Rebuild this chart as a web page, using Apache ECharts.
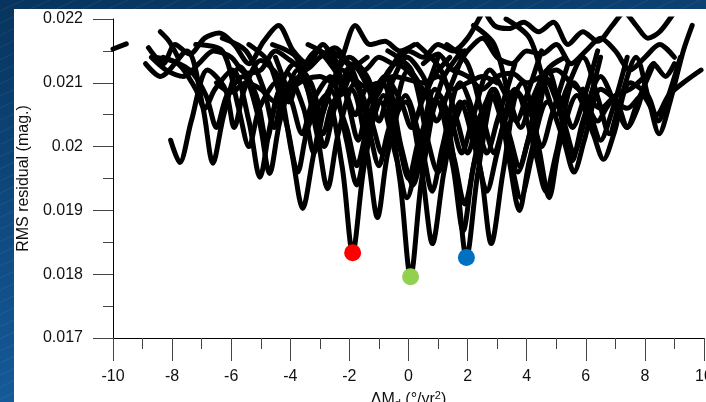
<!DOCTYPE html>
<html>
<head>
<meta charset="utf-8">
<script src="https://cdn.jsdelivr.net/npm/echarts@6/dist/echarts.min.js"></script>
<style>
  html, body { margin:0; padding:0; width:706px; height:402px; overflow:hidden; }
  body {
    background:
      repeating-linear-gradient(155deg, rgba(255,255,255,0.0) 0px, rgba(255,255,255,0.0) 9px, rgba(255,255,255,0.06) 10px, rgba(255,255,255,0.0) 11px),
      linear-gradient(170deg, #07345e 0%, #0f4b82 45%, #1a64a8 100%);
  }
  #panel { position:absolute; left:14px; top:9px; width:692px; height:393px; background:#fff; }
  #chart { position:absolute; left:0; top:0; width:706px; height:402px; }
</style>
</head>
<body>
<div id="panel"></div>
<div id="chart"></div>
<script>
// axis ticks
const xTicks = [-10, -8, -6, -4, -2, 0, 2, 4, 6, 8, 10];
const yTicks = [0.017, 0.018, 0.019, 0.02, 0.021, 0.022];

// RMS residual curves, [dMd, rms]
const cA = [[-8.05,0.0201],[-7.74,0.01975],[-7.35,0.0204],[-6.8,0.0212],[-6.2,0.0209],[-5.9,0.0203],[-5.55,0.0209],[-5.0,0.02135],[-4.4,0.0211],[-4.05,0.0207],[-3.7,0.0211],[-3.1,0.0215],[-2.5,0.0212],[-2.2,0.0209],[-1.9,0.0212],[-1.4,0.0214]];
const cB = [[-8.9,0.0213],[-8.4,0.0211],[-7.5,0.0215],[-6.95,0.0206],[-6.62,0.01974],[-6.25,0.0205],[-5.7,0.02125],[-5.15,0.0208],[-4.8,0.0201],[-4.45,0.0208],[-3.85,0.0213],[-3.3,0.0210],[-2.95,0.0205],[-2.6,0.0210],[-2.0,0.0214],[-1.4,0.0211],[-1.1,0.0208],[-0.75,0.0211],[-0.3,0.02145]];
const cC = [[-8.6,0.0214],[-7.8,0.0213],[-7.2,0.0209],[-6.9,0.0206],[-6.55,0.0209],[-5.95,0.0212],[-5.4,0.0204],[-5.03,0.01952],[-4.65,0.0204],[-4.1,0.02115],[-3.55,0.0206],[-3.2,0.0199],[-2.85,0.0206],[-2.25,0.0212],[-1.7,0.0209],[-1.35,0.0204],[-1.0,0.0209],[-0.4,0.0213],[0.15,0.0211],[0.5,0.0208],[0.85,0.0211],[1.4,0.0214]];
const cD = [[-8.3,0.0214],[-7.4,0.0212],[-6.85,0.0208],[-6.5,0.0203],[-6.15,0.0208],[-5.6,0.0211],[-5.05,0.0204],[-4.7,0.01958],[-4.35,0.0204],[-3.75,0.0212],[-3.2,0.0206],[-2.85,0.0200],[-2.5,0.0206],[-1.9,0.0213],[-1.35,0.0209],[-1.0,0.0204],[-0.65,0.0209],[-0.05,0.0214],[0.5,0.0211],[0.85,0.0207],[1.2,0.0211],[1.8,0.0215]];
const cE = [[-7.2,0.0216],[-6.3,0.0215],[-5.75,0.0206],[-5.4,0.0200],[-5.05,0.0206],[-4.5,0.0210],[-3.95,0.0199],[-3.58,0.01903],[-3.2,0.0199],[-2.65,0.0209],[-2.1,0.0203],[-1.75,0.0197],[-1.4,0.0203],[-0.8,0.0211],[-0.25,0.0207],[0.1,0.0203],[0.45,0.0207],[1.0,0.0214]];
const cF = [[-6.3,0.0217],[-5.5,0.0215],[-4.9,0.0209],[-4.55,0.0203],[-4.2,0.0209],[-3.65,0.0211],[-3.1,0.0202],[-2.74,0.01934],[-2.38,0.0202],[-1.8,0.0210],[-1.25,0.0204],[-0.9,0.0199],[-0.55,0.0204],[0.0,0.0212],[0.6,0.0208],[0.95,0.0204],[1.3,0.0208],[1.9,0.0215]];
const cR = [[-5.4,0.0216],[-4.7,0.0213],[-4.1,0.0203],[-3.75,0.0196],[-3.4,0.0203],[-2.8,0.0208],[-2.25,0.0197],[-1.89,0.01834],[-1.5,0.0197],[-0.95,0.0207],[-0.4,0.0198],[-0.05,0.0192],[0.3,0.0198],[0.9,0.0209],[1.45,0.0204],[1.8,0.0199],[2.15,0.0204],[2.75,0.0212],[3.3,0.0208],[3.65,0.0204],[4.0,0.0208],[4.5,0.0215]];
const cH = [[-4.6,0.0216],[-3.8,0.0214],[-3.25,0.0207],[-2.9,0.0202],[-2.55,0.0207],[-1.95,0.0209],[-1.4,0.0199],[-1.05,0.01889],[-0.7,0.0199],[-0.1,0.0208],[0.45,0.0200],[0.8,0.0193],[1.15,0.0200],[1.75,0.0210],[2.3,0.0204],[2.65,0.0199],[3.0,0.0204],[3.6,0.0213]];
const cG = [[-4.5,0.0214],[-3.95,0.0207],[-3.6,0.0202],[-3.25,0.0207],[-2.65,0.0211],[-2.1,0.0201],[-1.75,0.0194],[-1.4,0.0201],[-0.85,0.0208],[-0.3,0.0195],[0.07,0.01796],[0.45,0.0195],[1.0,0.0207],[1.55,0.0198],[1.9,0.0191],[2.25,0.0198],[2.85,0.0209],[3.4,0.0202],[3.75,0.0197],[4.1,0.0202],[4.7,0.0212],[5.3,0.0214]];
const cI = [[-2.6,0.0215],[-1.9,0.0212],[-1.35,0.0203],[-1.0,0.0197],[-0.65,0.0203],[-0.1,0.0207],[0.45,0.0196],[0.81,0.01848],[1.2,0.0196],[1.75,0.0207],[2.3,0.0199],[2.65,0.0193],[3.0,0.0199],[3.6,0.0209],[4.15,0.0205],[4.5,0.0200],[4.85,0.0205],[5.4,0.0213]];
const cK = [[-3.4,0.0216],[-2.7,0.0214],[-2.15,0.0209],[-1.8,0.0205],[-1.45,0.0209],[-0.9,0.0210],[-0.35,0.0201],[0.0,0.0195],[0.35,0.0201],[0.95,0.0207],[1.5,0.0197],[1.85,0.01868],[2.2,0.0197],[2.8,0.0208],[3.35,0.0201],[3.7,0.0196],[4.05,0.0201],[4.6,0.0211],[5.2,0.0207],[5.55,0.0203],[5.9,0.0207],[6.4,0.0215]];
const cBl = [[-2.5,0.0214],[-2.05,0.0207],[-1.7,0.0201],[-1.35,0.0207],[-0.8,0.0211],[-0.25,0.0200],[0.15,0.0194],[0.5,0.0200],[1.05,0.0208],[1.6,0.0196],[1.96,0.01826],[2.35,0.0196],[2.9,0.0208],[3.45,0.0198],[3.8,0.0192],[4.15,0.0198],[4.7,0.0210],[5.25,0.0204],[5.6,0.0199],[5.95,0.0204],[6.5,0.0214]];
const cJ = [[-0.7,0.0215],[0.1,0.0212],[0.65,0.0201],[1.0,0.0196],[1.35,0.0201],[1.9,0.0207],[2.45,0.0196],[2.8,0.01848],[3.2,0.0196],[3.7,0.0208],[4.3,0.0199],[4.65,0.0193],[5.0,0.0199],[5.6,0.0210],[6.15,0.0205],[6.5,0.0201],[6.85,0.0205],[7.4,0.0214]];
const cL = [[0.3,0.0216],[1.1,0.0212],[1.65,0.0204],[2.0,0.0199],[2.35,0.0204],[2.9,0.0209],[3.4,0.0198],[3.75,0.0190],[4.1,0.0198],[4.7,0.0207],[5.25,0.0201],[5.6,0.0196],[5.95,0.0201],[6.5,0.0209],[7.05,0.0207],[7.4,0.0203],[7.75,0.0207],[8.3,0.0213]];
const cM = [[1.3,0.0216],[2.0,0.0213],[2.55,0.0204],[2.9,0.0199],[3.25,0.0204],[3.85,0.0210],[4.4,0.0200],[4.76,0.0192],[5.1,0.0200],[5.7,0.0208],[6.25,0.0202],[6.6,0.0198],[6.95,0.0202],[7.5,0.0210],[8.1,0.0208],[8.45,0.0204],[8.8,0.0208],[9.2,0.0214]];
const cN = [[2.2,0.0219],[2.9,0.0216],[3.45,0.0207],[3.8,0.0203],[4.15,0.0207],[4.7,0.0212],[5.2,0.0204],[5.54,0.01978],[5.9,0.0204],[6.5,0.0211],[7.05,0.0206],[7.4,0.0203],[7.75,0.0206],[8.3,0.0213],[8.7,0.0211],[9.0,0.0213]];
const cO = [[3.3,0.0220],[4.1,0.0217],[4.65,0.0209],[5.0,0.0205],[5.35,0.0209],[5.9,0.0214],[6.45,0.0207],[6.79,0.0202],[7.15,0.0207],[7.7,0.0214],[8.15,0.0207],[8.48,0.0202],[8.85,0.0207],[9.3,0.0215],[9.6,0.0219]];
const cP = [[5.9,0.0209],[6.4,0.0204],[6.9,0.0207],[7.4,0.0206],[7.9,0.0208],[8.4,0.0205],[8.8,0.0208],[9.3,0.0210],[9.9,0.0212]];
const cT1 = [[-8.8,0.02155],[-8.3,0.0213],[-7.9,0.0216],[-7.4,0.02145],[-6.9,0.0217],[-6.4,0.02178],[-5.9,0.0216],[-5.4,0.0213],[-4.9,0.02165],[-4.4,0.0219],[-3.9,0.0215],[-3.4,0.0213],[-2.9,0.0216],[-2.4,0.0213],[-1.8,0.0219],[-1.3,0.0216],[-0.8,0.02165],[-0.3,0.0215],[0.2,0.0216]];
const cT2 = [[-8.7,0.0214],[-8.2,0.0212],[-7.6,0.0211],[-7.1,0.0213],[-6.6,0.0215],[-6.0,0.0214],[-5.5,0.02115],[-5.0,0.0212],[-4.5,0.0215],[-4.0,0.02135],[-3.5,0.0212],[-3.0,0.0214],[-2.5,0.02155],[-2.0,0.0213],[-1.5,0.0212],[-1.0,0.0214],[-0.5,0.0213],[0.0,0.0215],[0.5,0.0214],[1.0,0.0216],[1.5,0.0215],[2.0,0.0217],[2.5,0.0221],[2.9,0.0224]];
const cT3 = [[2.4,0.0223],[2.9,0.0219],[3.4,0.02185],[3.9,0.02195],[4.4,0.0218],[4.9,0.02195],[5.4,0.0216],[5.9,0.0218],[6.4,0.02165],[6.9,0.0219],[7.3,0.0221],[7.7,0.0219],[8.1,0.0217],[8.5,0.0218],[9.0,0.0221],[9.4,0.0223]];
const cT4 = [[0.5,0.0213],[1.0,0.02145],[1.5,0.0212],[2.0,0.0215],[2.5,0.0217],[3.0,0.0214],[3.5,0.0213],[4.0,0.0215],[4.5,0.02145],[5.0,0.0216],[5.5,0.0213],[6.0,0.0215],[6.5,0.0217],[7.0,0.0215],[7.5,0.0212],[8.0,0.0214],[8.5,0.0216],[9.0,0.0214]];
const cT5 = [[-8.4,0.0218],[-8.1,0.02165],[-7.8,0.0214]];
const cT6 = [[-6.5,0.0210],[-6.0,0.02085],[-5.5,0.0210],[-5.0,0.0209],[-4.5,0.0207],[-4.0,0.0209],[-3.5,0.02105],[-3.0,0.0211],[-2.5,0.0210],[-2.0,0.0211],[-1.5,0.02095],[-1.0,0.0210],[-0.5,0.0211],[0.0,0.02105],[0.5,0.0210],[1.0,0.0211],[1.5,0.0209],[2.0,0.0210],[2.5,0.0211],[3.0,0.0210]];
const cT7 = [[1.5,0.0212],[2.0,0.0211],[2.5,0.0209],[3.0,0.0211],[3.5,0.02115],[4.0,0.0210],[4.5,0.0211],[5.0,0.0212],[5.5,0.0210],[6.0,0.0208],[6.5,0.0206],[7.0,0.0208],[7.5,0.0209],[8.0,0.0211]];
const cZ = [[-10.0,0.02153],[-9.55,0.02161]];

// best-fit minima markers
const redPt = [[-1.89, 0.018337]];
const greenPt = [[0.07, 0.01796]];
const bluePt = [[1.96, 0.01826]];

const curves = [cA, cB, cC, cD, cE, cF, cR, cH, cG, cI, cK, cBl, cJ, cL, cM, cN, cO, cP, cT1, cT2, cT3, cT4, cT5, cT6, cT7, cZ];

const font = '"Liberation Sans", Arial, sans-serif';
const chart = echarts.init(document.getElementById('chart'), null, { renderer: 'canvas' });

const series = curves.map(c => ({
  type: 'line',
  data: c,
  smooth: 0.3,
  showSymbol: false,
  silent: true,
  lineStyle: { color: '#000', width: 5, cap: 'round', join: 'round' }
}));
[[redPt, '#ff0000'], [greenPt, '#92d050'], [bluePt, '#0070c0']].forEach(([d, col]) => {
  series.push({ type: 'scatter', data: d, symbolSize: 17, z: 5, itemStyle: { color: col, opacity: 1 } });
});

chart.setOption({
  animation: false,
  backgroundColor: 'transparent',
  grid: { left: 113, right: 2, top: 19, bottom: 64, containLabel: false, outerBoundsMode: 'none' },
  xAxis: {
    type: 'value', min: -10, max: 10, interval: 2,
    axisLine: { onZero: false, lineStyle: { color: '#000', width: 1 } },
    axisTick: { length: 23, lineStyle: { color: '#444' } },
    minorTick: { show: true, splitNumber: 2, length: 11, lineStyle: { color: '#444' } },
    splitLine: { show: false },
    axisLabel: { color: '#111', fontSize: 16, fontFamily: font, margin: 31, hideOverlap: false,
      formatter: v => xTicks.includes(v) ? String(v) : '' },
    name: 'ΔM{sub|d} (°/yr{sup|2})',
    nameLocation: 'middle', nameGap: 52,
    nameTextStyle: { color: '#111', fontSize: 16, fontFamily: font,
      rich: { sub: { fontSize: 11, verticalAlign: 'bottom', padding: [8, 0, 0, 0], fontFamily: font, color: '#111' },
              sup: { fontSize: 11, verticalAlign: 'top', padding: [0, 0, 6, 0], fontFamily: font, color: '#111' } } }
  },
  yAxis: {
    type: 'value', min: 0.017, max: 0.022, interval: 0.001,
    axisLine: { show: true, onZero: false, lineStyle: { color: '#000', width: 1 } },
    axisTick: { show: true, length: 20, lineStyle: { color: '#444' } },
    minorTick: { show: true, splitNumber: 2, length: 10, lineStyle: { color: '#444' } },
    splitLine: { show: false },
    axisLabel: { color: '#111', fontSize: 16, fontFamily: font, margin: 30,
      formatter: v => String(+v.toFixed(3)) },
    name: 'RMS residual (mag.)',
    nameLocation: 'middle', nameGap: 80, nameRotate: 90,
    nameTextStyle: { color: '#111', fontSize: 16, fontFamily: font }
  },
  series
});
</script>
</body>
</html>
